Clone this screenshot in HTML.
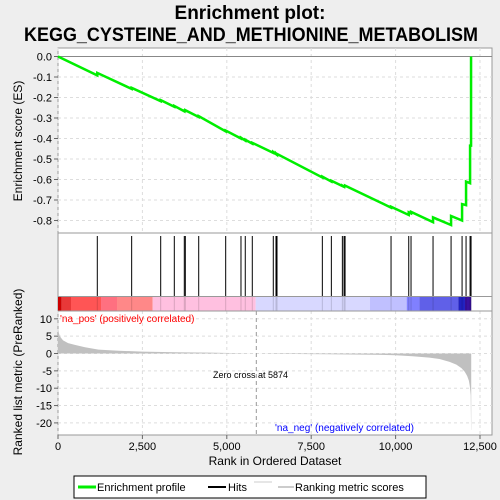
<!DOCTYPE html>
<html><head><meta charset="utf-8"><style>
body{margin:0;background:#eeeeee;}
svg{display:block;font-family:"Liberation Sans",sans-serif;}
</style></head><body>
<svg id="c" width="500" height="500">
<text x="250" y="19" text-anchor="middle" font-size="19" font-weight="bold">Enrichment plot:</text>
<text x="251" y="41" text-anchor="middle" font-size="19" font-weight="bold" textLength="454" lengthAdjust="spacingAndGlyphs">KEGG_CYSTEINE_AND_METHIONINE_METABOLISM</text>
<rect x="58" y="48" width="434" height="387" fill="#fff" stroke="#999"/>
<g id="grid"></g>
<g id="marks"></g>
<line x1="58" y1="233" x2="492" y2="233" stroke="#999"/>
<line x1="58" y1="296.5" x2="492" y2="296.5" stroke="#999"/>
<line x1="58" y1="311" x2="492" y2="311" stroke="#999"/>
<text transform="translate(22,141) rotate(-90)" text-anchor="middle" font-size="12">Enrichment score (ES)</text>
<text transform="translate(22,372) rotate(-90)" text-anchor="middle" font-size="12">Ranked list metric (PreRanked)</text>
<text x="275" y="465" text-anchor="middle" font-size="12">Rank in Ordered Dataset</text>
<text x="60" y="322" font-size="10" fill="#ff0000">'na_pos' (positively correlated)</text>
<text x="275" y="431" font-size="10" fill="#0000ff">'na_neg' (negatively correlated)</text>
<text x="213" y="378" font-size="9" fill="#000">Zero cross at 5874</text>
<g>
<rect x="74" y="476" width="352" height="22" fill="#fff" stroke="#000"/>
<line x1="78" y1="487" x2="96" y2="487" stroke="#00ee00" stroke-width="3"/>
<text x="97" y="491" font-size="11">Enrichment profile</text>
<line x1="208" y1="487" x2="226" y2="487" stroke="#000" stroke-width="2"/>
<text x="228" y="491" font-size="11">Hits</text>
<line x1="254" y1="482" x2="272" y2="482" stroke="#ccc"/>
<line x1="278" y1="487" x2="294" y2="487" stroke="#ccc" stroke-width="2"/>
<text x="295" y="491" font-size="11">Ranking metric scores</text>
</g>
</svg>
<script>
const hitRanks=[1164,2182,3042,3445,3741,3771,4168,4967,5420,5547,5755,6377,6457,6487,7830,8097,8423,8473,8503,9865,10389,10457,11109,11643,11969,12087,12206,12235];
const esBefore=[-0.092,-0.158,-0.218,-0.245,-0.267,-0.265,-0.295,-0.365,-0.400,-0.410,-0.425,-0.470,-0.476,-0.478,-0.590,-0.610,-0.632,-0.635,-0.633,-0.737,-0.773,-0.765,-0.808,-0.822,-0.800,-0.725,-0.618,-0.435];
const esAfter=[-0.080,-0.153,-0.213,-0.241,-0.264,-0.262,-0.291,-0.361,-0.396,-0.406,-0.421,-0.466,-0.473,-0.475,-0.586,-0.606,-0.630,-0.633,-0.630,-0.733,-0.760,-0.758,-0.785,-0.778,-0.720,-0.610,-0.435,0.0];
const totalN=12240;
const metricRanks=[0,50,150,300,500,800,1200,1800,2500,3500,4500,5874,6500,8000,9300,10000,10500,11000,11300,11600,11800,11950,12050,12120,12170,12200,12225,12235,12240];
const metricVals=[7,5,3.8,3,2.5,1.8,1.1,0.8,0.55,0.35,0.25,0,-0.1,-0.2,-0.35,-0.5,-0.8,-1.2,-1.6,-2.4,-3.2,-4.2,-5.3,-6.5,-7.8,-9.5,-12,-22,-22];
const xTicks=[0,2500,5000,7500,10000,12500];
const xTickLabels=["0","2,500","5,000","7,500","10,000","12,500"];
const esTicks=[0,-0.1,-0.2,-0.3,-0.4,-0.5,-0.6,-0.7,-0.8];
const esTickLabels=["0.0","-0.1","-0.2","-0.3","-0.4","-0.5","-0.6","-0.7","-0.8"];
const mTicks=[10,5,0,-5,-10,-15,-20];
const mTickLabels=["10","5","0","-5","-10","-15","-20"];
const barEdges=[0,110,385,1274,1748,2805,5856,9242,10329,10702,11857,12055,12240];
const barColors=["#cc0000","#e83838","#ff5555","#ff7080","#ff8888","#ffc0e0","#d8d8ff","#c0c0ff","#8080ff","#6060e8","#2020c0","#3a10a0"];

const NS="http://www.w3.org/2000/svg";
const X=r=>58+r*0.03376;
const YE=v=>56.5-v*205;
const YM=v=>353.5-v*3.47;
function el(t,a,p){const e=document.createElementNS(NS,t);for(const k in a)e.setAttribute(k,a[k]);(p||document.getElementById('marks')).appendChild(e);return e;}
const grid=document.getElementById('grid');
const svg=document.getElementById('c');
xTicks.forEach((t,i)=>{
  const x=X(t);
  [[48,233],[311,435]].forEach(([a,b])=>{const g=el('line',{x1:x,x2:x,y1:a,y2:b,stroke:'#ddd','stroke-dasharray':'3,3'},grid);

});
  const tk=el('line',{x1:x,x2:x,y1:435,y2:439,stroke:'#666'},svg);
  
  
  const tx=el('text',{x:x,y:450,'text-anchor':'middle','font-size':11},svg);tx.textContent=xTickLabels[i];
  
  
});
esTicks.forEach((t,i)=>{
  const y=YE(t);
  const g=el('line',{x1:58,x2:492,y1:y,y2:y,stroke:t===0?'#888':'#ddd','stroke-dasharray':t===0?'':'3,3'},grid);
  
  
  el('line',{x1:54,x2:58,y1:y,y2:y,stroke:'#666'},svg);
  const tx=el('text',{x:52,y:y+4,'text-anchor':'end','font-size':11},svg);tx.textContent=esTickLabels[i];
  
  
});
mTicks.forEach((t,i)=>{
  const y=YM(t);
  const g=el('line',{x1:58,x2:492,y1:y,y2:y,stroke:'#ddd','stroke-dasharray':'3,3'},grid);
  
  
  el('line',{x1:54,x2:58,y1:y,y2:y,stroke:'#666'},svg);
  const tx=el('text',{x:52,y:y+4,'text-anchor':'end','font-size':11},svg);tx.textContent=mTickLabels[i];
  
  
});
barColors.forEach((c,i)=>{
  const r=el('rect',{x:X(barEdges[i]),y:297,width:X(barEdges[i+1])-X(barEdges[i]),height:14,fill:c});
  
  
});
let d='M'+X(0)+','+YM(0);
metricRanks.forEach((r,i)=>{d+=' L'+X(r)+','+YM(metricVals[i]);});
d+=' L'+X(totalN)+','+YM(0)+' Z';
const area=el('path',{d:d,fill:'#c0c0c0',stroke:'none'});


const zc=el('line',{x1:X(5874),x2:X(5874),y1:311,y2:435,stroke:'#999','stroke-dasharray':'4,3'});


hitRanks.forEach(r=>{
  const h=el('line',{x1:X(r),x2:X(r),y1:236,y2:296,stroke:'#000','stroke-width':1});
  
  
  const h2=el('line',{x1:X(r),x2:X(r),y1:297,y2:311,stroke:'rgba(0,0,0,0.15)','stroke-width':1});
  
  
});
let p=X(0)+','+YE(0);
hitRanks.forEach((r,i)=>{p+=' '+X(r)+','+YE(esBefore[i])+' '+X(r)+','+YE(esAfter[i]);});
const es=el('polyline',{points:p,fill:'none',stroke:'#00ee00','stroke-width':2.5});


</script>
</body></html>
